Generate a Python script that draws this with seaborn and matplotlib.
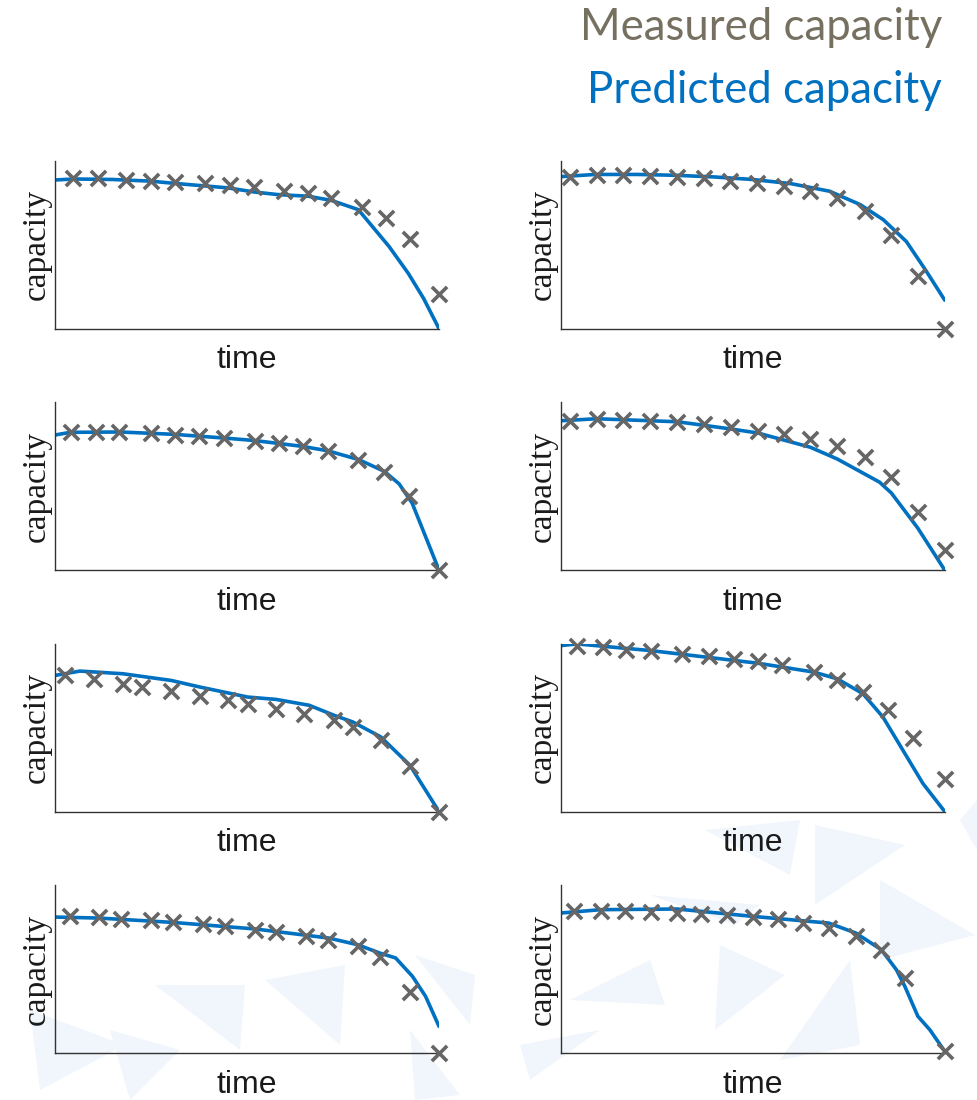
import matplotlib
matplotlib.use("Agg")
import matplotlib.pyplot as plt
import seaborn as sns
from matplotlib.patches import Polygon

sns.set_style("white")

# measured capacity (x markers) per panel, normalised time / capacity
meas_t = [
    [0.048, 0.111, 0.186, 0.251, 0.313, 0.391, 0.455, 0.517, 0.596, 0.658, 0.720, 0.799, 0.862, 0.925, 1.0],
    [0.024, 0.094, 0.163, 0.233, 0.303, 0.372, 0.442, 0.511, 0.581, 0.650, 0.720, 0.791, 0.859, 0.930, 1.0],
    [0.041, 0.106, 0.167, 0.251, 0.312, 0.374, 0.439, 0.521, 0.584, 0.645, 0.710, 0.788, 0.857, 0.922, 1.0],
    [0.024, 0.094, 0.163, 0.233, 0.304, 0.374, 0.443, 0.513, 0.581, 0.650, 0.720, 0.791, 0.861, 0.930, 1.0],
    [0.026, 0.101, 0.177, 0.227, 0.303, 0.377, 0.450, 0.502, 0.576, 0.649, 0.727, 0.775, 0.848, 0.924, 1.0],
    [0.043, 0.109, 0.170, 0.235, 0.317, 0.385, 0.452, 0.513, 0.577, 0.659, 0.720, 0.787, 0.852, 0.916, 1.0],
    [0.039, 0.114, 0.173, 0.251, 0.307, 0.385, 0.443, 0.521, 0.576, 0.654, 0.712, 0.788, 0.846, 0.924, 1.0],
    [0.035, 0.104, 0.168, 0.235, 0.303, 0.365, 0.433, 0.500, 0.565, 0.630, 0.698, 0.768, 0.835, 0.896, 1.0],
]
meas_c = [
    [0.897, 0.897, 0.887, 0.883, 0.873, 0.867, 0.857, 0.843, 0.823, 0.808, 0.778, 0.728, 0.659, 0.534, 0.206],
    [0.907, 0.917, 0.917, 0.913, 0.907, 0.897, 0.883, 0.867, 0.851, 0.823, 0.778, 0.702, 0.560, 0.312, 0.0],
    [0.822, 0.822, 0.822, 0.816, 0.808, 0.798, 0.786, 0.772, 0.758, 0.739, 0.713, 0.657, 0.588, 0.442, 0.0],
    [0.891, 0.901, 0.897, 0.891, 0.881, 0.871, 0.851, 0.832, 0.812, 0.782, 0.739, 0.673, 0.554, 0.347, 0.119],
    [0.812, 0.792, 0.762, 0.743, 0.719, 0.689, 0.663, 0.640, 0.614, 0.580, 0.545, 0.505, 0.426, 0.271, 0.0],
    [0.990, 0.980, 0.966, 0.956, 0.941, 0.925, 0.911, 0.897, 0.875, 0.832, 0.786, 0.713, 0.604, 0.440, 0.192],
    [0.819, 0.811, 0.801, 0.795, 0.781, 0.771, 0.755, 0.736, 0.720, 0.696, 0.676, 0.636, 0.573, 0.362, 0.0],
    [0.845, 0.845, 0.845, 0.839, 0.835, 0.829, 0.821, 0.811, 0.799, 0.775, 0.746, 0.700, 0.616, 0.447, 0.01],
]

# predicted capacity (blue line) per panel
pred_t = [
    [0, 0.05, 0.15, 0.25, 0.31, 0.45, 0.52, 0.58, 0.66, 0.72, 0.79, 0.83, 0.87, 0.92, 0.96, 1.0],
    [0, 0.09, 0.2, 0.3, 0.4, 0.5, 0.6, 0.7, 0.78, 0.84, 0.9, 0.95, 1.0],
    [0, 0.04, 0.17, 0.31, 0.44, 0.52, 0.645, 0.71, 0.79, 0.857, 0.896, 0.93, 0.965, 1.0],
    [0, 0.094, 0.304, 0.443, 0.513, 0.65, 0.72, 0.791, 0.83, 0.861, 0.93, 1.0],
    [0, 0.065, 0.177, 0.303, 0.377, 0.502, 0.576, 0.662, 0.727, 0.775, 0.848, 0.924, 1.0],
    [0, 0.043, 0.235, 0.513, 0.659, 0.720, 0.787, 0.839, 0.891, 0.943, 1.0],
    [0, 0.114, 0.307, 0.521, 0.712, 0.788, 0.846, 0.887, 0.931, 0.965, 1.0],
    [0, 0.104, 0.303, 0.5, 0.698, 0.768, 0.835, 0.874, 0.896, 0.930, 0.961, 1.0],
]
pred_c = [
    [0.887, 0.893, 0.89, 0.88, 0.867, 0.84, 0.815, 0.80, 0.79, 0.765, 0.71, 0.60, 0.49, 0.33, 0.18, 0.0],
    [0.907, 0.92, 0.92, 0.915, 0.905, 0.89, 0.865, 0.82, 0.74, 0.65, 0.52, 0.35, 0.17],
    [0.806, 0.822, 0.824, 0.81, 0.788, 0.773, 0.738, 0.712, 0.66, 0.59, 0.515, 0.40, 0.20, 0.0],
    [0.891, 0.903, 0.885, 0.842, 0.818, 0.733, 0.663, 0.574, 0.525, 0.46, 0.25, 0.0],
    [0.812, 0.838, 0.822, 0.782, 0.743, 0.683, 0.669, 0.634, 0.574, 0.535, 0.446, 0.277, 0.0],
    [0.99, 1.0, 0.96, 0.885, 0.832, 0.792, 0.703, 0.564, 0.366, 0.168, 0.0],
    [0.811, 0.805, 0.779, 0.740, 0.686, 0.646, 0.596, 0.567, 0.457, 0.338, 0.159],
    [0.835, 0.855, 0.859, 0.815, 0.775, 0.716, 0.616, 0.497, 0.398, 0.219, 0.139, 0.01],
]

meas_color = "#666666"
pred_color = "#0070C0"

fig, axes = plt.subplots(4, 2, figsize=(9.77, 11.0), dpi=100)
fig.subplots_adjust(left=0.0563, right=0.967, top=0.8536, bottom=0.0427,
                    wspace=0.317, hspace=0.44)

# faint background shapes (decoration, in pixels)
shapes = [
    [(705, 830), (800, 820), (790, 875)],
    [(815, 825), (905, 845), (815, 905)],
    [(880, 880), (975, 935), (880, 960)],
    [(960, 820), (977, 800), (977, 850)],
    [(570, 1000), (650, 960), (665, 1005)],
    [(650, 895), (760, 905), (735, 925)],
    [(720, 945), (785, 975), (715, 1030)],
    [(780, 1060), (850, 960), (860, 1045)],
    [(415, 955), (475, 975), (470, 1025)],
    [(155, 985), (245, 985), (240, 1050)],
    [(265, 980), (345, 965), (340, 1045)],
    [(30, 1010), (125, 1045), (40, 1090)],
    [(110, 1030), (180, 1050), (130, 1100)],
    [(410, 1030), (460, 1095), (415, 1100)],
    [(520, 1045), (600, 1030), (530, 1080)],
]
for pts in shapes:
    fig.patches.append(Polygon([(x / 977, 1 - y / 1100) for x, y in pts], closed=True,
                               transform=fig.transFigure, facecolor="#f1f6fc",
                               edgecolor="none", zorder=-5))

for i, ax in enumerate(axes.flat):
    ax.set_facecolor("none")
    sns.lineplot(x=pred_t[i], y=pred_c[i], ax=ax, color=pred_color, lw=2.6, zorder=2)
    sns.scatterplot(x=meas_t[i], y=meas_c[i], ax=ax, marker="x", s=120,
                    color=meas_color, linewidth=2.6, clip_on=False, zorder=3)
    ax.set_xlim(0, 1)
    ax.set_ylim(0, 1)
    ax.set_xticks([])
    ax.set_yticks([])
    for s in ["top", "right"]:
        ax.spines[s].set_visible(False)
    for s in ["left", "bottom"]:
        ax.spines[s].set_color("#333333")
        ax.spines[s].set_linewidth(1.0)
    ax.set_xlabel("time", fontsize=23, family="Liberation Sans", color="#1a1a1a", labelpad=12)
    ax.set_ylabel("capacity", fontsize=24, family="Liberation Serif", color="#1a1a1a", labelpad=2)

fig.text(0.964, 0.975, "Measured capacity", ha="right", va="center",
         fontsize=31.5, family="Lato", color="#767060")
fig.text(0.964, 0.918, "Predicted capacity", ha="right", va="center",
         fontsize=31.5, family="Lato", color=pred_color)

fig.savefig("out.png", dpi=100)
